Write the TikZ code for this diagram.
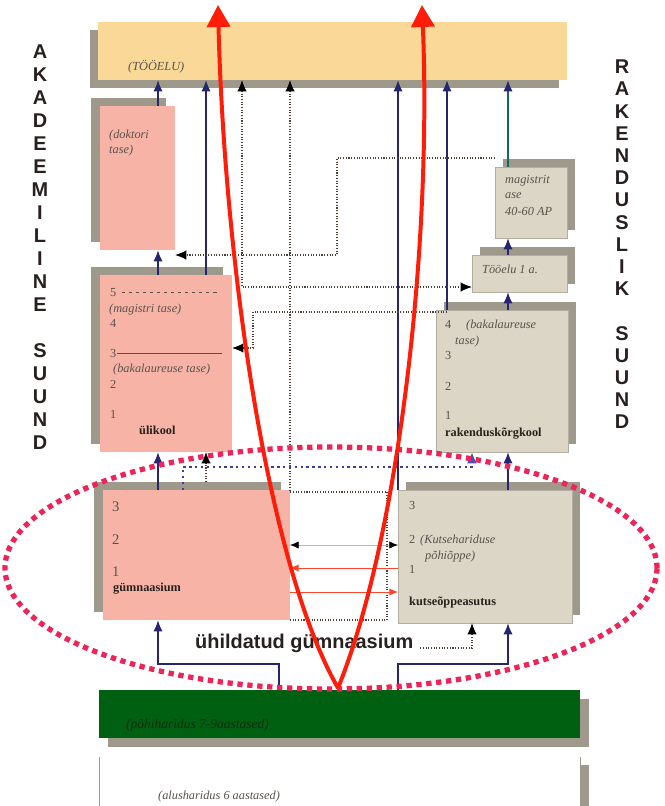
\documentclass[tikz,border=0pt]{standalone}
\usepackage{fontspec}
\setmainfont{Liberation Serif}
\newfontfamily\sidefont{Liberation Sans}
\usetikzlibrary{calc,positioning,arrows.meta,shadows}
\definecolor{BoxPink}{RGB}{247,180,166}
\definecolor{BoxBeige}{RGB}{219,214,198}
\definecolor{BoxWork}{RGB}{249,216,152}
\definecolor{BoxGreen}{RGB}{0,96,18}
\definecolor{ShadowGrey}{RGB}{158,153,138}
\definecolor{NavyLine}{RGB}{38,38,112}
\definecolor{TealLine}{RGB}{20,105,95}
\definecolor{RoyalTip}{RGB}{70,80,190}
\definecolor{PathRed}{RGB}{255,28,8}
\definecolor{RedThin}{RGB}{255,70,45}
\definecolor{RingRed}{RGB}{236,36,88}
\definecolor{DotBrown}{RGB}{75,65,55}
\definecolor{DotBlue}{RGB}{62,62,150}
\definecolor{TextGrey}{RGB}{88,82,76}
\definecolor{TextDark}{RGB}{40,32,30}
\definecolor{GreenText}{RGB}{15,45,15}
\tikzset{
    box/.style={anchor=north west,inner sep=0pt,outer sep=0pt},
    pinkbox/.style={box,fill=BoxPink,general shadow={fill=ShadowGrey,shadow xshift=-2.7mm,shadow yshift=2.4mm}},
    beigebox/.style={box,fill=BoxBeige,draw=ShadowGrey!80,line width=0.4pt,general shadow={fill=ShadowGrey,shadow xshift=2.4mm,shadow yshift=2.4mm}},
    workbox/.style={box,fill=BoxWork,general shadow={fill=ShadowGrey,shadow xshift=-2.4mm,shadow yshift=-2.4mm}},
    greenbox/.style={box,fill=BoxGreen,general shadow={fill=ShadowGrey,shadow xshift=2.7mm,shadow yshift=-2.7mm}},
    basebox/.style={box,fill=white,general shadow={fill=ShadowGrey,shadow xshift=2.7mm,shadow yshift=-2.4mm}},
    boxtext/.style={inner sep=0pt,anchor=base west,text=TextGrey,font=\fontsize{10.5}{12}\selectfont},
    slanttext/.style={boxtext,font=\fontsize{10.5}{12}\selectfont\itshape},
    boldtext/.style={boxtext,text=TextDark,font=\fontsize{10.5}{12}\selectfont\bfseries},
    bignum/.style={boxtext,font=\fontsize{12.5}{14}\selectfont},
    sideletters/.style={align=center,inner sep=0pt,text=TextDark,font=\sidefont\bfseries\fontsize{17}{19.63}\selectfont},
    uhild/.style={inner sep=0pt,text=TextDark,font=\sidefont\bfseries\fontsize{17}{20}\selectfont},
    levelline/.style={TextGrey,line width=0.5pt},
    navyarrow/.style={NavyLine,line width=1.6pt,-{Latex[length=3.4mm,width=2.8mm]}},
    tealarrow/.style={TealLine,line width=1.6pt,-{Latex[length=3.4mm,width=2.8mm,color=NavyLine]}},
    dotline/.style={DotBrown,line width=0.9pt,dash pattern=on 0.9pt off 1.4pt},
    dottip/.style={-{Latex[length=3.4mm,width=2.8mm,color=black]}},
    bluedots/.style={DotBlue,line width=2pt,dash pattern=on 2pt off 3pt,-{Latex[length=3.4mm,width=3mm,color=RoyalTip]}},
    greyboth/.style={gray!55,line width=0.7pt,{Latex[length=2.6mm,width=2.2mm,color=black]}-{Latex[length=2.6mm,width=2.2mm,color=black]}},
    thinred/.style={RedThin,line width=0.8pt,-{Latex[length=2.6mm,width=2.2mm]}},
    ring/.style={RingRed,line width=4.5pt,dash pattern=on 4.5pt off 4pt},
    bigred/.style={PathRed,line width=3.4pt,-{Triangle[length=6.6mm,width=6.9mm]}}
}

\begin{document}
\begin{tikzpicture}[x=0.3mm,y=-0.3mm]
		\useasboundingbox (0,0) rectangle (664,806);
		% columns and levels of the connectors
		\coordinate (xa) at (158,0);
		\coordinate (xb) at (206,0);
		\coordinate (xc) at (242,0);
		\coordinate (xd) at (290,0);
		\coordinate (xf) at (447,0);
		\coordinate (xg) at (508,0);
		\coordinate (xh) at (387,0);
		\coordinate (xi) at (183,0);
		\coordinate (xj) at (472,0);
		\coordinate (xk) at (279,0);
		\coordinate (xm) at (337,0);
		\coordinate (xr) at (253,0);
		\coordinate (yk) at (0,287);
		\coordinate (ym) at (0,158);
		\coordinate (yd) at (0,255);
		\coordinate (yr) at (0,312);
		\coordinate (yu) at (0,348);
		\coordinate (yg) at (0,492);
		\coordinate (yh) at (0,620);
		\coordinate (yq) at (0,482);
		\coordinate (yb) at (0,467);
		\coordinate (yz) at (0,664);
		\coordinate (y1) at (0,545);
		\coordinate (y2) at (0,568);
		\coordinate (y3) at (0,592);
		% boxes
		\node[workbox,minimum width=140.7mm,minimum height=17.4mm] (tooelu) at (98,22) {};
		\node[pinkbox,minimum width=22.5mm,minimum height=43.2mm] (doktor) at (100,106) {};
		\node[pinkbox,minimum width=39.6mm,minimum height=53.1mm] (ulikool) at (100,275) {};
		\node[pinkbox,minimum width=56.1mm,minimum height=39mm] (gymn) at (103,490) {};
		\node[beigebox,minimum width=21.6mm,minimum height=21.3mm] (magistrit) at (495,167) {};
		\node[beigebox,minimum width=28.5mm,minimum height=11.1mm] (tooaasta) at (472,255) {};
		\node[beigebox,minimum width=39.6mm,minimum height=42.6mm] (rakkool) at (436,310) {};
		\node[beigebox,minimum width=52.2mm,minimum height=39.9mm] (kutse) at (398,490) {};
		\node[greenbox,minimum width=144.3mm,minimum height=14.4mm] (pohi) at (99,690) {};
		\node[basebox,minimum width=144.3mm,minimum height=15.6mm] (alus) at (99,757) {};
		\draw[ShadowGrey,line width=0.6pt] (alus.north west) -- (alus.south west);
		\draw[ShadowGrey,line width=0.6pt] (alus.north east) -- (alus.south east);
		% side words
		\node[sideletters] (akad) at (40,247.5) {A\\K\\A\\D\\E\\E\\M\\I\\L\\I\\N\\E\\[19.63pt]S\\U\\U\\N\\D};
		\node[sideletters,font=\sidefont\bfseries\fontsize{17}{18.95}\selectfont] (raken) at (622,244.5) {R\\A\\K\\E\\N\\D\\U\\S\\L\\I\\K\\[18.95pt]S\\U\\U\\N\\D};
		% texts in the boxes
		\node[slanttext] (worklbl) at (128,71) {(TÖÖELU)};
		\node[slanttext] (dok1) at (109,139) {(doktori};
		\node[slanttext] (dok2) at (109,154) {tase)};
		\node[boxtext] (u5) at (110,296) {5};
		\draw[levelline,dashed] ([xshift=1.5mm]u5.east) -- ([xshift=-4.2mm]ulikool.east |- u5.east);
		\node[slanttext] (umag) at (109,312) {(magistri tase)};
		\node[boxtext] (u4) at (110,327) {4};
		\node[boxtext] (u3) at (110,357) {3};
		\draw[levelline] (u3.east) -- ([xshift=-3mm]ulikool.east |- u3.east);
		\node[slanttext] (ubak) at (113,372) {(bakalaureuse tase)};
		\node[boxtext] (u2) at (110,388) {2};
		\node[boxtext] (u1) at (110,418) {1};
		\node[boldtext] (ulbl) at (139,434) {ülikool};
		\node[slanttext] (mag1) at (505,183) {magistrit};
		\node[slanttext] (mag2) at (505,198) {ase};
		\node[slanttext] (mag3) at (505,215) {40-60 AP};
		\node[slanttext] (aasta) at (482,273) {Tööelu 1 a.};
		\node[boxtext] (r4) at (445,328) {4};
		\node[slanttext] (rbak) at (466,328) {(bakalaureuse};
		\node[slanttext] (rtase) at (455,344) {tase)};
		\node[boxtext] (r3) at (445,359) {3};
		\node[boxtext] (r2) at (445,390) {2};
		\node[boxtext] (r1) at (445,419) {1};
		\node[boldtext] (rlbl) at (445,436) {rakenduskõrgkool};
		\node[bignum] (g3) at (112,511) {3};
		\node[bignum] (g2) at (112,544) {2};
		\node[bignum] (g1) at (112,576) {1};
		\node[boldtext] (glbl) at (113,591) {gümnaasium};
		\node[boxtext] (k3) at (409,509) {3};
		\node[boxtext] (k2) at (409,543) {2};
		\node[slanttext] (k2a) at (420,543) {(Kutsehariduse};
		\node[slanttext] (k2b) at (425,559) {põhiõppe)};
		\node[boxtext] (k1) at (409,573) {1};
		\node[boldtext] (klbl) at (409,605) {kutseõppeasutus};
		\node[slanttext,text=GreenText,font=\fontsize{11.5}{13}\selectfont\itshape] (pohilbl) at (126,728) {(põhiharidus 7-9aastased)};
		\node[slanttext] (aluslbl) at (158,799) {(alusharidus 6 aastased)};
		\node[uhild,anchor=base west] (uhildlbl) at (195,648) {ühildatud gümnaasium};
		% arrows to working life
		\draw[navyarrow] (doktor.north -| xa) -- (tooelu.south -| xa);
		\draw[navyarrow] (ulikool.north -| xb) -- (tooelu.south -| xb);
		\draw[navyarrow] (kutse.north west) -- (tooelu.south -| kutse.north west);
		\draw[navyarrow] (rakkool.north -| xf) -- (tooelu.south -| xf);
		\draw[tealarrow] (magistrit.north -| xg) -- (tooelu.south -| xg);
		\draw[dotline,dottip] (xd |- yh) -- (xh |- yh) -- (xh |- yg) -- (xd |- yg) -- (tooelu.south -| xd);
		\draw[dotline,{Latex[length=3.4mm,width=2.8mm,color=black]}-{Latex[length=3.4mm,width=2.8mm,color=black]}] (tooelu.south -| xc) -- (xc |- yk) -- (tooaasta.west |- yk);
		% steps between levels
		\draw[navyarrow] (ulikool.north -| xa) -- (doktor.south -| xa);
		\draw[navyarrow] (gymn.north -| xa) -- (ulikool.south -| xa);
		\draw[navyarrow] (tooaasta.north -| xg) -- (magistrit.south -| xg);
		\draw[navyarrow] (rakkool.north -| xg) -- (tooaasta.south -| xg);
		\draw[navyarrow] (kutse.north -| xg) -- (rakkool.south -| xg);
		\draw[dotline,dottip] (magistrit.north west |- ym) -- (xm |- ym) -- (xm |- yd) -- (doktor.east |- yd);
		\draw[dotline,dottip] (xf |- yr) -- (xr |- yr) -- (xr |- yu) -- (ulikool.east |- yu);
		\draw[dotline,dottip] (xb |- yq) -- (ulikool.south -| xb);
		\draw[bluedots] (gymn.north -| xi) -- (xi |- yb) -- (xj |- yb) -- (rakkool.south -| xj);
		% between the schools
		\draw[greyboth] (gymn.east |- y1) -- (kutse.west |- y1);
		\draw[thinred] (kutse.west |- y2) -- (gymn.east |- y2);
		\draw[thinred] (gymn.east |- y3) -- (kutse.west |- y3);
		% from basic school
		\draw[navyarrow] (pohi.north -| xk) -- (xk |- yz) -- (xa |- yz) -- (gymn.south -| xa);
		\draw[navyarrow] (pohi.north -| kutse.west) -- (kutse.west |- yz) -- (xg |- yz) -- (kutse.south -| xg);
		\draw[dotline,dottip] ([xshift=2mm]uhildlbl.base east) -- (xj |- uhildlbl.base) -- (kutse.south -| xj);
		% ring and the two red ways
		\draw[ring] (331,568) ellipse [x radius=97.8mm,y radius=36.3mm];
		\coordinate (vtip) at (338,688);
		\coordinate (lefttop) at (218,5);
		\coordinate (righttop) at (422,5);
		\draw[bigred] (vtip) .. controls (265,560) and (224,250) .. (lefttop);
		\draw[bigred] (vtip) .. controls (398,540) and (432,250) .. (righttop);
\end{tikzpicture}
\end{document}
